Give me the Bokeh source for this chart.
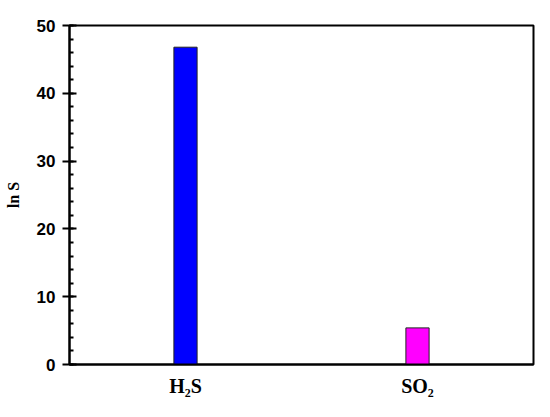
from bokeh.plotting import figure
from bokeh.models import FactorRange, Range1d, SingleIntervalTicker, ColumnDataSource
from bokeh.embed import file_html
from bokeh.resources import INLINE

categories = ["H₂S", "SO₂"]
values = [46.8, 5.4]
colors = ["#0000ff", "#ff00ff"]

src = ColumnDataSource(dict(cat=categories, val=values, color=colors))

p = figure(width=542, height=409, output_backend="svg", toolbar_location=None,
           x_range=FactorRange(*categories, range_padding=0),
           y_range=Range1d(0, 50),
           min_border_left=69, min_border_right=9, min_border_top=25, min_border_bottom=45)

p.vbar(x="cat", top="val", width=0.1, source=src, fill_color="color",
       line_color="#222222", line_width=1)

p.grid.visible = False
p.outline_line_color = "black"
p.outline_line_width = 2
p.background_fill_color = "white"
p.border_fill_color = "white"

p.yaxis.ticker = SingleIntervalTicker(interval=10, num_minor_ticks=5)
p.yaxis.major_tick_in = 7
p.yaxis.major_tick_out = 7
p.yaxis.minor_tick_in = 4
p.yaxis.minor_tick_out = 0
p.yaxis.axis_line_width = 2
p.yaxis.major_tick_line_width = 2
p.yaxis.minor_tick_line_width = 2
p.yaxis.major_label_text_font = "Liberation Sans"
p.yaxis.major_label_text_font_style = "bold"
p.yaxis.major_label_text_font_size = "17px"
p.yaxis.major_label_text_color = "black"
p.yaxis.major_label_standoff = 7
p.yaxis.axis_label = "ln S"
p.yaxis.axis_label_text_font = "Liberation Serif"
p.yaxis.axis_label_text_font_style = "bold"
p.yaxis.axis_label_text_font_size = "16px"
p.yaxis.axis_label_text_color = "black"
p.yaxis.axis_label_standoff = 12

p.xaxis.axis_line_width = 2
p.xaxis.major_tick_line_color = None
p.xaxis.minor_tick_line_color = None
p.xaxis.major_label_text_font = "Liberation Serif"
p.xaxis.major_label_text_font_style = "bold"
p.xaxis.major_label_text_font_size = "20px"
p.xaxis.major_label_text_color = "black"
p.xaxis.major_label_standoff = 4

open("out.html", "w").write(file_html(p, INLINE))
